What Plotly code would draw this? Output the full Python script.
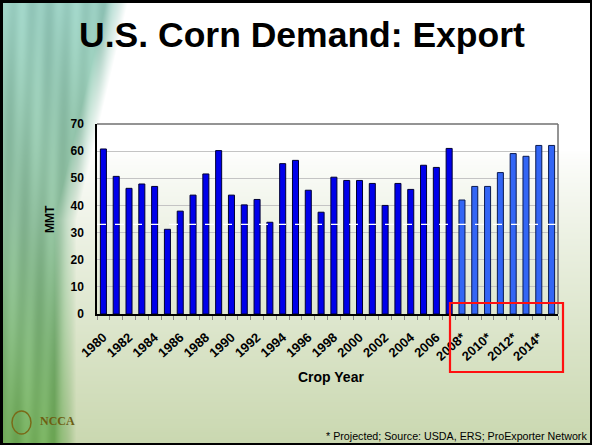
import zlib, struct, base64
import numpy as np
import plotly.graph_objects as go

# ---------------- data ----------------
years = list(range(1980, 2016))
exports = [60.8, 50.7, 46.3, 47.9, 47.0, 31.2, 37.9, 43.8, 51.6, 60.2,
           43.8, 40.2, 42.2, 33.8, 55.4, 56.6, 45.6, 37.5, 50.4, 49.2,
           49.2, 48.1, 40.0, 48.1, 45.9, 54.8, 54.0, 61.0, 42.0, 47.0,
           47.0, 52.1, 59.1, 58.1, 62.1, 62.1]
first_projected = 2008
tick_years = list(range(1980, 2016, 2))
tick_labels = [f"{y}*" if y >= first_projected else str(y) for y in tick_years]
ref_line = 33.0

# ---------------- background image ----------------
W, H = 592, 445
yy, xx = np.mgrid[0:H, 0:W].astype(float)
t = np.clip((yy - 150) / 295, 0, 1) ** 0.85
white = np.array([255, 255, 255], float)
green = np.array([202, 216, 176], float)
img = white * (1 - t[..., None]) + green * t[..., None]
# left strip
wy = 128 - 52 * np.clip(yy / 220, 0, 1)
alpha = np.clip((wy - xx) / 22, 0, 1) * 0.95
s = np.clip(yy / 445, 0, 1)[..., None]
c_top = np.array([148, 203, 190], float)
c_mid = np.array([135, 185, 150], float)
c_bot = np.array([110, 170, 85], float)
strip = np.where(s < 0.5, c_top * (1 - 2 * s) + c_mid * (2 * s),
                 c_mid * (2 - 2 * s) + c_bot * (2 * s - 1))
stripes = 7 * np.sin(xx * 0.35 + yy * 0.012) + 5 * np.sin(xx * 0.11 - yy * 0.02)
strip = strip + stripes[..., None]
img = img * (1 - alpha[..., None]) + strip * alpha[..., None]
img = np.clip(img, 0, 255).astype(np.uint8)
img[:3, :] = 0
img[-2:, :] = 0
img[:, :3] = 0
img[:, -2:] = 0


def to_png(arr):
    h, w, _ = arr.shape
    raw = b"".join(b"\x00" + arr[i].tobytes() for i in range(h))

    def chunk(tag, data):
        c = struct.pack(">I", len(data)) + tag + data
        return c + struct.pack(">I", zlib.crc32(tag + data) & 0xFFFFFFFF)

    return (b"\x89PNG\r\n\x1a\n"
            + chunk(b"IHDR", struct.pack(">IIBBBBB", w, h, 8, 2, 0, 0, 0))
            + chunk(b"IDAT", zlib.compress(raw, 9))
            + chunk(b"IEND", b""))


bg_uri = "data:image/png;base64," + base64.b64encode(to_png(img)).decode()

# ---------------- figure ----------------
L, R, T, B = 97, 34, 124, 131
PW, PH = W - L - R, H - T - B
FONT = "Liberation Sans, Arial, sans-serif"

hist_x = [y for y in years if y < first_projected]
hist_v = [v for y, v in zip(years, exports) if y < first_projected]
proj_x = [y for y in years if y >= first_projected]
proj_v = [v for y, v in zip(years, exports) if y >= first_projected]

fig = go.Figure()
fig.add_bar(x=hist_x, y=hist_v, width=0.47,
            marker=dict(color="#0000EA", line=dict(color="#000033", width=1)))
fig.add_bar(x=proj_x, y=proj_v, width=0.47,
            marker=dict(color="#3366F5", line=dict(color="#0A1A50", width=1)))


def px_x(p):
    return (p - L) / PW


def px_y(p):
    return (H - B - p) / PH


fig.update_layout(
    width=W, height=H,
    margin=dict(l=L, r=R, t=T, b=B),
    paper_bgcolor="white",
    plot_bgcolor="rgba(0,0,0,0)",
    showlegend=False,
    barmode="overlay",
    font=dict(family=FONT, color="black"),
    images=[dict(source=bg_uri, xref="paper", yref="paper",
                 x=px_x(0), y=px_y(0), sizex=W / PW, sizey=H / PH,
                 sizing="stretch", xanchor="left", yanchor="top", layer="below")],
    xaxis=dict(range=[1979.5, 2015.5], tickmode="array", tickvals=tick_years,
               ticktext=[f"<b>{t}</b>" for t in tick_labels], tickangle=-42, ticks="",
               ticklabelstandoff=9,
               tickfont=dict(size=13, family=FONT, color="black"),
               showgrid=False, showline=True, linecolor="black", linewidth=1.5,
               minor=dict(tickmode="linear", tick0=1979.5, dtick=1, ticks="outside",
                          ticklen=4, tickcolor="#888888", showgrid=False),
               zeroline=False),
    yaxis=dict(range=[0, 70], dtick=10, showgrid=True, gridcolor="#C4C4C4",
               gridwidth=1, showline=True, linecolor="black", linewidth=1.5,
               ticks="", ticklabelstandoff=9,
               tickprefix="<b>", ticksuffix="</b>",
               tickfont=dict(size=12, color="black"), zeroline=False),
    title=dict(text="<b>U.S. Corn Demand: Export</b>", x=302 / W,
               xanchor="center", y=1 - 35 / H, yanchor="middle",
               font=dict(size=35.5, family=FONT, color="black")),
)

shapes = [
    # dashed white reference line
    dict(type="line", xref="paper", yref="y", x0=0, x1=1, y0=ref_line, y1=ref_line,
         line=dict(color="white", width=1.2, dash="dash"), layer="above"),
    # top and right frame of the plot
    dict(type="line", xref="paper", yref="paper", x0=0, x1=1, y0=1, y1=1,
         line=dict(color="#707070", width=1.5)),
    dict(type="line", xref="paper", yref="paper", x0=1, x1=1, y0=0, y1=1,
         line=dict(color="#707070", width=1.5)),
    # red highlight box
    dict(type="rect", xref="paper", yref="paper",
         x0=px_x(450), x1=px_x(563), y0=px_y(372), y1=px_y(303),
         line=dict(color="#FF1010", width=2.2)),
    # logo circle
    dict(type="circle", xref="paper", yref="paper",
         x0=px_x(12), x1=px_x(31), y0=px_y(434), y1=px_y(411),
         line=dict(color="#7A6A18", width=1.5)),
]
fig.update_layout(shapes=shapes)

fig.add_annotation(text="<b>MMT</b>", xref="paper", yref="paper",
                   x=px_x(50), y=0.5, showarrow=False, textangle=-90,
                   font=dict(size=12, color="black"), xanchor="center", yanchor="middle")
fig.add_annotation(text="<b>Crop Year</b>", xref="paper", yref="paper",
                   x=px_x(331), y=px_y(377), showarrow=False,
                   font=dict(size=14, color="black"), xanchor="center", yanchor="middle")
fig.add_annotation(text="* Projected; Source: USDA, ERS; ProExporter Network",
                   xref="paper", yref="paper", x=px_x(589), y=px_y(436),
                   showarrow=False, xanchor="right", yanchor="middle",
                   font=dict(size=10.7, color="black"))
fig.add_annotation(text="<b>NCCA</b>", xref="paper", yref="paper",
                   x=px_x(38), y=px_y(421), showarrow=False, xanchor="left",
                   yanchor="middle",
                   font=dict(size=12, color="#6E5E12", family="Liberation Serif, serif"))

fig.write_html(
    "out.html",
    config={"displayModeBar": False},
    post_script="document.body.style.margin='0px';"
                "document.documentElement.style.overflow='hidden';"
                "document.body.style.overflow='hidden';",
)
